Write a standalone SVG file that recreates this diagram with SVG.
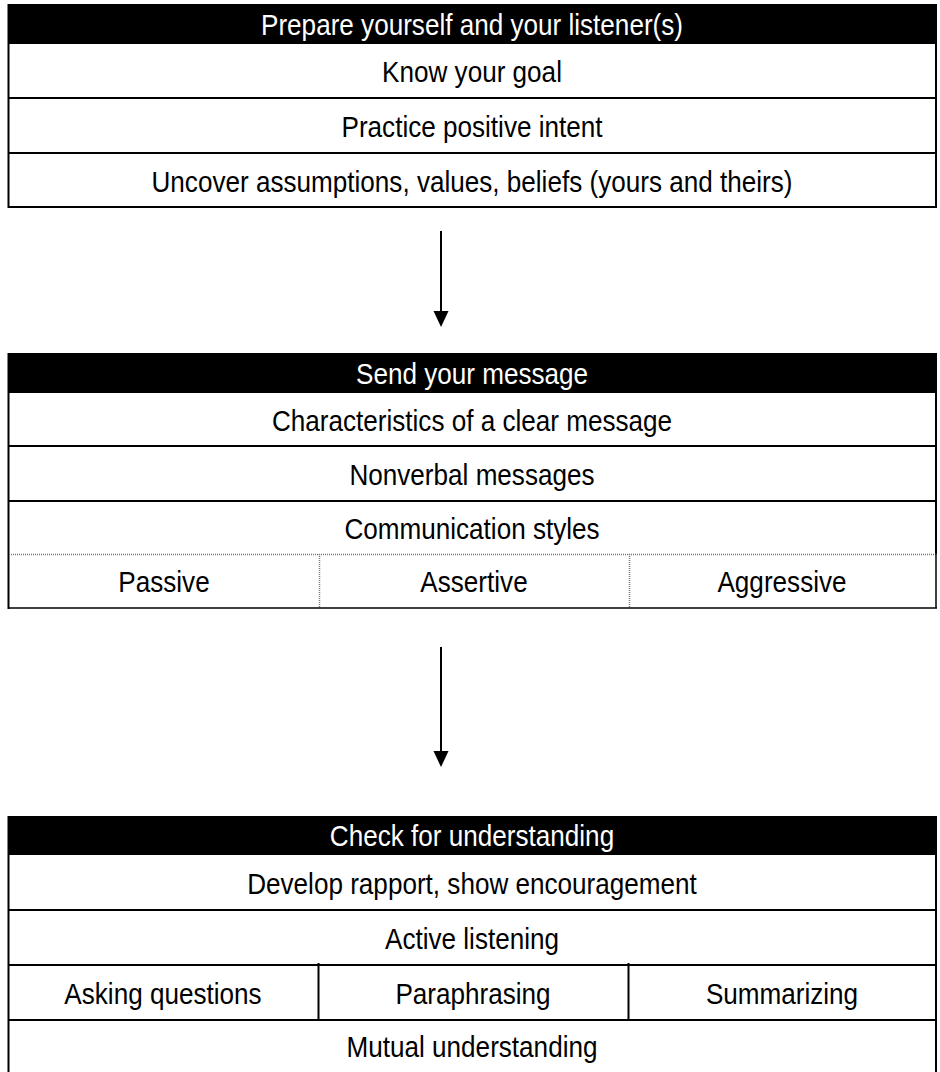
<svg xmlns="http://www.w3.org/2000/svg" width="940" height="1072" viewBox="0 0 940 1072">
<style>
  text { font-family: "Liberation Sans", Arial, sans-serif; font-size: 29px; fill: #000; text-anchor: middle; }
  text.hd { fill: #fff; }
  .hdr { fill: #000; }
  .ln { stroke: #000; stroke-width: 2; fill: none; }
  .dot { stroke: #777; stroke-width: 1.5; stroke-dasharray: 1 1; fill: none; }
  .conn { stroke: #000; stroke-width: 2; fill: none; }
</style>
<defs>
  <marker id="ah" markerUnits="userSpaceOnUse" markerWidth="16" markerHeight="16" refX="0" refY="7.5" orient="auto" viewBox="0 0 16 15">
    <path d="M0,0 L16,7.5 L0,15 Z" fill="#000"/>
  </marker>
</defs>
<rect x="0" y="0" width="940" height="1072" fill="#fff"/>

<g id="prepare">
  <rect class="hdr" x="7.5" y="4" width="929.5" height="40"/>
  <path class="ln" d="M8.5,44 V207 M936,44 V207 M7.5,207 H937 M8,98 H937 M8,153 H937"/>
  <text class="hd" transform="translate(472 35) scale(0.9 1)">Prepare yourself and your listener(s)</text>
  <text transform="translate(472 82) scale(0.9 1)">Know your goal</text>
  <text transform="translate(472 137) scale(0.9 1)">Practice positive intent</text>
  <text transform="translate(472 192) scale(0.9 1)">Uncover assumptions, values, beliefs (yours and theirs)</text>
</g>

<g id="send">
  <rect class="hdr" x="7.5" y="353" width="929.5" height="40"/>
  <path class="ln" d="M8.5,393 V609 M936,393 V554 M8,446 H937 M8,501 H937"/>
  <path class="dot" d="M9,554.5 H936 M319.5,554 V608 M629.5,554 V608"/>
  <path stroke="#000" stroke-width="1.5" fill="none" d="M936,554 V608.5 M8,608 H937"/>
  <text class="hd" transform="translate(472 384) scale(0.9 1)">Send your message</text>
  <text transform="translate(472 431) scale(0.9 1)">Characteristics of a clear message</text>
  <text transform="translate(472 485) scale(0.9 1)">Nonverbal messages</text>
  <text transform="translate(472 539) scale(0.9 1)">Communication styles</text>
  <text transform="translate(164 592) scale(0.9 1)">Passive</text>
  <text transform="translate(474 592) scale(0.9 1)">Assertive</text>
  <text transform="translate(782 592) scale(0.9 1)">Aggressive</text>
</g>

<g id="check">
  <rect class="hdr" x="7.5" y="816" width="929.5" height="39"/>
  <path class="ln" d="M8.5,855 V1072 M936,855 V1072 M8,910 H937 M8,965 H937 M8,1020 H937 M318.5,963 V1020 M628.5,963 V1020"/>
  <text class="hd" transform="translate(472 846) scale(0.9 1)">Check for understanding</text>
  <text transform="translate(472 894) scale(0.9 1)">Develop rapport, show encouragement</text>
  <text transform="translate(472 949) scale(0.9 1)">Active listening</text>
  <text transform="translate(163 1004) scale(0.9 1)">Asking questions</text>
  <text transform="translate(473 1004) scale(0.9 1)">Paraphrasing</text>
  <text transform="translate(782 1004) scale(0.9 1)">Summarizing</text>
  <text transform="translate(472 1057) scale(0.9 1)">Mutual understanding</text>
</g>

<g id="connectors">
  <line class="conn" x1="441" y1="231" x2="441" y2="311" marker-end="url(#ah)"/>
  <line class="conn" x1="441" y1="647" x2="441" y2="751" marker-end="url(#ah)"/>
</g>
</svg>
